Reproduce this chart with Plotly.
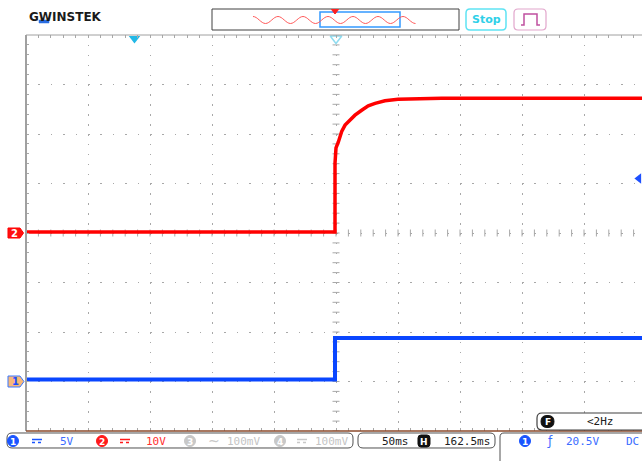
import numpy as np
import plotly.graph_objects as go

W, H = 642, 461

# ---------------- data ----------------
time_per_div = 50.0          # ms/div
ch1_volts_per_div = 5.0
ch2_volts_per_div = 10.0
ch1_offset_div = -3.0
ch2_offset_div = 0.0
trigger_level = 20.5         # V on CH1
h_position = -162.5          # ms (memory position marker)

# CH2 (red)
ch2_t = [-250, -0.8, -0.8, 0.0, 1.9, 4.6, 7.3, 11.3, 15.3, 20.7, 26.0, 31.5,
         39.5, 50.0, 61.0, 85.2, 246.8]
ch2_v = [0.2, 0.2, 14.1, 17.2, 18.4, 20.5, 21.8, 22.8, 23.8, 24.8, 25.7, 26.2,
         26.7, 27.0, 27.1, 27.2, 27.2]
# CH1 (blue)
ch1_t = [-250, -0.8, -0.8, 246.8]
ch1_v = [0.2, 0.2, 4.4, 4.4]

# status bar texts
ch_scale_labels = ["5V", "10V", "100mV", "100mV"]
ch_numbers = ["1", "2", "3", "4"]
timebase_label = "50ms"
hpos_label = "162.5ms"
trig_level_label = "20.5V"
trig_coupling_label = "DC"
freq_label = "<2Hz"
run_label = "Stop"
brand_label = "GWINSTEK"

# ---------------- helpers (pixel -> paper) ----------------
def X(px):
    return px / W

def Y(py):
    return 1 - py / H

def pt(x, y):
    return f"{X(x):.5f},{Y(y):.5f}"

def rrect_path(x0, y0, x1, y1, r):
    return (f"M {pt(x0+r, y0)} L {pt(x1-r, y0)} Q {pt(x1, y0)} {pt(x1, y0+r)} "
            f"L {pt(x1, y1-r)} Q {pt(x1, y1)} {pt(x1-r, y1)} L {pt(x0+r, y1)} "
            f"Q {pt(x0, y1)} {pt(x0, y1-r)} L {pt(x0, y0+r)} Q {pt(x0, y0)} {pt(x0+r, y0)} Z")

fig = go.Figure()

def add_path(path, color, width=1.0, fill=None, xref="paper", yref="paper"):
    fig.add_shape(type="path", path=path, xref=xref, yref=yref,
                  line=dict(color=color, width=width),
                  fillcolor=fill if fill else "rgba(0,0,0,0)", layer="above")

def add_line(x0, y0, x1, y1, color, width=1.0, dash="solid"):
    fig.add_shape(type="line", x0=X(x0), y0=Y(y0), x1=X(x1), y1=Y(y1),
                  xref="paper", yref="paper",
                  line=dict(color=color, width=width, dash=dash), layer="above")

def add_rect(x0, y0, x1, y1, color, width=1.0, fill=None):
    fig.add_shape(type="rect", x0=X(x0), y0=Y(y0), x1=X(x1), y1=Y(y1),
                  xref="paper", yref="paper",
                  line=dict(color=color, width=width),
                  fillcolor=fill if fill else "rgba(0,0,0,0)", layer="above")

def add_circle(cx, cy, r, fill, color=None):
    fig.add_shape(type="circle", x0=X(cx-r), y0=Y(cy-r), x1=X(cx+r), y1=Y(cy+r),
                  xref="paper", yref="paper",
                  line=dict(color=color if color else fill, width=1),
                  fillcolor=fill, layer="above")

def txt(x, y, s, color, size=11, family="DejaVu Sans Mono", xanchor="center"):
    fig.add_annotation(x=X(x), y=Y(y), xref="paper", yref="paper", text=s,
                       showarrow=False, xanchor=xanchor, yanchor="middle",
                       font=dict(family=family, size=size, color=color))

# ---------------- axes geometry ----------------
plot_l, plot_r, plot_t, plot_b = 26, 642, 35, 431
div_px = 62.0
x_left = -5 * time_per_div
x_right = x_left + (plot_r - plot_l) / div_px * time_per_div
y2_range = [(-4 - ch2_offset_div) * ch2_volts_per_div, (4 - ch2_offset_div) * ch2_volts_per_div]
y1_range = [(-4 - ch1_offset_div) * ch1_volts_per_div, (4 - ch1_offset_div) * ch1_volts_per_div]

grid_col = "#a8a8a8"

# center cross tick marks
cross_x = np.arange(x_left, x_right, time_per_div / 5)
cross_y = np.arange(y2_range[0], y2_range[1] + 0.01, ch2_volts_per_div / 5)
fig.add_trace(go.Scatter(x=cross_x, y=np.zeros_like(cross_x), mode="markers",
                         marker=dict(symbol="line-ns", size=5, line=dict(color=grid_col, width=1)),
                         hoverinfo="skip", yaxis="y"))
fig.add_trace(go.Scatter(x=np.zeros_like(cross_y), y=cross_y, mode="markers",
                         marker=dict(symbol="line-ew", size=5, line=dict(color=grid_col, width=1)),
                         hoverinfo="skip", yaxis="y"))

# waveforms
fig.add_trace(go.Scatter(x=ch2_t, y=ch2_v, mode="lines", yaxis="y",
                         line=dict(color="#ff0000", width=3.5), hoverinfo="skip"))
fig.add_trace(go.Scatter(x=ch1_t, y=ch1_v, mode="lines", yaxis="y2",
                         line=dict(color="#0a46ff", width=4), hoverinfo="skip"))

# trigger level marker (right edge) on CH1 scale
fig.add_trace(go.Scatter(x=[x_right - 2.5], y=[trigger_level], mode="markers", yaxis="y2",
                         marker=dict(symbol="triangle-left", size=9, color="#1e50ff"),
                         cliponaxis=False, hoverinfo="skip"))
# top markers: memory position (filled) and trigger point (hollow)
top_y = y2_range[1] - 0.7
fig.add_trace(go.Scatter(x=[h_position], y=[top_y], mode="markers", yaxis="y",
                         marker=dict(symbol="triangle-down", size=10, color="#22b8e6"),
                         cliponaxis=False, hoverinfo="skip"))
fig.add_trace(go.Scatter(x=[0], y=[top_y], mode="markers", yaxis="y",
                         marker=dict(symbol="triangle-down-open", size=10, color="#8fdcf0",
                                     line=dict(color="#8fdcf0", width=1.5)),
                         cliponaxis=False, hoverinfo="skip"))

fig.update_layout(
    width=W, height=H, margin=dict(l=0, r=0, t=0, b=0),
    paper_bgcolor="white", plot_bgcolor="white", showlegend=False,
    xaxis=dict(domain=[X(plot_l), X(plot_r)], range=[x_left, x_right],
               showgrid=True, gridcolor=grid_col, gridwidth=1, griddash="1.5px,8.4px",
               dtick=time_per_div, tick0=0, zeroline=False, showline=False,
               showticklabels=False, ticks="inside", ticklen=3, tickcolor=grid_col,
               mirror="ticks",
               minor=dict(dtick=time_per_div / 5, ticks="inside", ticklen=3,
                          tickcolor=grid_col, showgrid=False),
               fixedrange=True),
    yaxis=dict(domain=[Y(plot_b), Y(plot_t)], range=y2_range,
               showgrid=True, gridcolor=grid_col, gridwidth=1, griddash="1.5px,10.9px",
               dtick=ch2_volts_per_div, tick0=0, zeroline=False, showline=False,
               showticklabels=False, ticks="inside", ticklen=3, tickcolor=grid_col,
               minor=dict(dtick=ch2_volts_per_div / 5, ticks="inside", ticklen=3,
                          tickcolor=grid_col, showgrid=False),
               fixedrange=True),
    yaxis2=dict(domain=[Y(plot_b), Y(plot_t)], range=y1_range, overlaying="y",
                visible=False, fixedrange=True),
)

# plot borders
add_line(plot_l, plot_t, plot_r, plot_t, "#a0a0a0", 1)
add_line(plot_l, plot_t, plot_l, plot_b, "#a0a0a0", 2)
add_line(plot_l, plot_b, plot_r, plot_b, "#8b4a2b", 1.5)

# channel ground tags on the left
hh2 = 5 * (y2_range[1] - y2_range[0]) / (plot_b - plot_t)
add_path(f"M {X(8):.5f},{-hh2} L {X(20):.5f},{-hh2} L {X(23.5):.5f},0 L {X(20):.5f},{hh2} "
         f"L {X(8):.5f},{hh2} Z", "#ff0000", 1, "#ff1010", yref="y")
fig.add_annotation(x=X(14.5), y=0, xref="paper", yref="y", text="<b>2</b>", showarrow=False,
                   xanchor="center", yanchor="middle",
                   font=dict(family="DejaVu Sans", size=10, color="white"))
hh1 = 5.5 * (y1_range[1] - y1_range[0]) / (plot_b - plot_t)
add_path(f"M {X(8):.5f},{-hh1} L {X(20):.5f},{-hh1} L {X(24):.5f},0 L {X(20):.5f},{hh1} "
         f"L {X(8):.5f},{hh1} Z", "#3a78ff", 1, "#f8b878", yref="y2")
fig.add_annotation(x=X(15), y=0, xref="paper", yref="y2", text="<b>1</b>", showarrow=False,
                   xanchor="center", yanchor="middle",
                   font=dict(family="DejaVu Sans", size=10, color="#1a4cff"))

# ---------------- header ----------------
txt(27, 17.5, f"<b>{brand_label}</b>", "#1a1a1a", 12, "DejaVu Sans", xanchor="left")
add_rect(39, 20, 49, 23, "#2a6ce0", 0.5, "#2a6ce0")

# overview box
add_rect(212, 9, 459, 30, "#404040", 1)
add_rect(320, 12, 400, 27, "#3399ff", 1.5)
# overview waveform icon
x0, per, yc, a = 253.0, 25.0, 20.0, 3.5
p = f"M {pt(x0, yc - a)}"
xx = x0
up = True
while xx + per / 2 <= 418.5:
    y_from = yc - a if up else yc + a
    y_to = yc + a if up else yc - a
    p += f" C {pt(xx + 4.5, y_from)} {pt(xx + 8, y_to)} {pt(xx + per / 2, y_to)}"
    xx += per / 2
    up = not up
add_path(p, "#ff5a5a", 1)
add_path(f"M {pt(331.5, 9.5)} L {pt(338.5, 9.5)} L {pt(335, 14)} Z", "#ff2020", 1, "#ff2020")

# Stop button
add_path(rrect_path(466, 9, 506, 30, 4), "#5fe3f3", 1.5)
txt(486, 19.5, f"<b>{run_label}</b>", "#2fd0e8", 11, "DejaVu Sans")
# trigger mode button
add_path(rrect_path(514, 9, 546, 30, 4), "#e2a6cc", 1.2)
add_path(f"M {pt(521, 25)} L {pt(524, 25)} L {pt(524, 14)} L {pt(537, 14)} "
         f"L {pt(537, 25)} L {pt(540, 25)}", "#c050a0", 1.5)

# ---------------- status bar ----------------
bar_y = 441
add_path(rrect_path(7, 433, 353, 448, 5), "#505050", 1)
add_path(rrect_path(358, 433, 495, 448, 5), "#505050", 1)
add_path(f"M {pt(500, 461)} L {pt(500, 437)} Q {pt(500, 433)} {pt(504, 433)} L {pt(642, 433)}",
         "#505050", 1)

ch_colors = ["#1a55ff", "#ff1a1a", "#c8c8c8", "#c8c8c8"]
txt_colors = ["#3a6cff", "#ff3030", "#c4c4c4", "#c4c4c4"]
circle_x = [13, 102, 190, 280]
icon_x = [37, 125, 214, 302]
label_x = [67, 156, 243, 331]
for i in range(4):
    add_circle(circle_x[i], bar_y, 5.5, ch_colors[i])
    txt(circle_x[i], bar_y + 0.5, f"<b>{ch_numbers[i]}</b>", "white", 9, "DejaVu Sans")
    if i == 2:
        txt(icon_x[i], bar_y, "~", ch_colors[i], 14, "DejaVu Sans")
    else:
        add_line(icon_x[i] - 5, bar_y - 1.5, icon_x[i] + 5, bar_y - 1.5, ch_colors[i], 1.5)
        add_line(icon_x[i] - 5, bar_y + 1.5, icon_x[i] + 5, bar_y + 1.5, ch_colors[i], 1.5, "dot")
    txt(label_x[i], bar_y, ch_scale_labels[i], txt_colors[i], 11)

txt(395, bar_y, timebase_label, "#202020", 11)
add_path(rrect_path(418, 435, 430, 447, 3), "#101010", 1, "#101010")
txt(424, bar_y + 0.5, "<b>H</b>", "white", 9, "DejaVu Sans")
txt(467, bar_y, hpos_label, "#202020", 11)

add_circle(525, bar_y, 5.5, "#1a55ff")
txt(525, bar_y + 0.5, "<b>1</b>", "white", 9, "DejaVu Sans")
txt(550, bar_y, "ƒ", "#3a6cff", 12, "DejaVu Sans")
txt(582, bar_y, trig_level_label, "#3a6cff", 11)
txt(641, bar_y, trig_coupling_label, "#3a6cff", 11, xanchor="right")

# frequency box
add_path(rrect_path(537, 413, 650, 430, 5), "#404040", 1.2, "white")
add_path(rrect_path(541, 415.5, 554, 427.5, 6), "#101010", 1, "#101010")
txt(547.5, 421.5, "<b>F</b>", "white", 9, "DejaVu Sans")
txt(600, 421.5, freq_label, "#202020", 11)

fig.write_html("out.html", config={"displayModeBar": False},
               post_script="document.body.style.margin='0';")
